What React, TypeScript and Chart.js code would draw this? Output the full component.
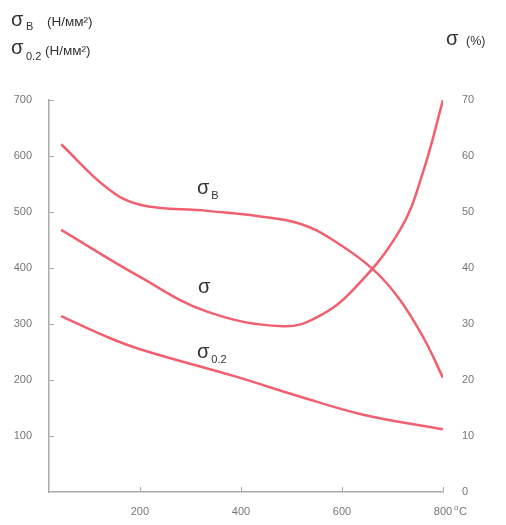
import React, { useEffect, useRef } from "react";
import { Chart, registerables } from "chart.js";

Chart.register(...registerables);

const sigmaBTemps = [44, 135, 200, 333, 438, 517, 582, 661, 715, 764, 800];
const sigmaBValues = [621, 543, 513, 502, 492, 479, 450, 398, 343, 271, 204];

const sigmaTemps = [44, 200, 333, 483, 550, 622, 715, 760, 800];
const sigmaValues = [46.8, 38.4, 32.2, 29.6, 31.2, 36.1, 46.8, 57.0, 70];

const sigma02Temps = [44, 135, 200, 390, 511, 642, 800];
const sigma02Values = [314, 277, 255, 206, 172, 138, 112];

const xTicks = [200, 400, 600, 800];
const leftTicks = [100, 200, 300, 400, 500, 600, 700];

const curveLabels = [
  { main: "σ", sub: "B", t: 313, v: 533 },
  { main: "σ", sub: "", t: 315, v: 355 },
  { main: "σ", sub: "0.2", t: 313, v: 239 },
];

const LINE = "#f0606e";
const FONT = "Arial, 'Liberation Sans', sans-serif";

const toPts = (xs: number[], ys: number[]) => xs.map((x, i) => ({ x, y: ys[i] }));

const overlay = {
  id: "overlay",
  afterDraw(chart: any) {
    const ctx = chart.ctx as CanvasRenderingContext2D;
    const xs = chart.scales.x;
    const yl = chart.scales.yL;
    const area = chart.chartArea;
    ctx.save();
    ctx.strokeStyle = "#aaaaaa";
    ctx.lineWidth = 1;
    ctx.beginPath();
    leftTicks.forEach((v) => {
      const y = Math.round(yl.getPixelForValue(v)) + 0.5;
      ctx.moveTo(area.left, y);
      ctx.lineTo(area.left + 5, y);
    });
    xTicks.forEach((v) => {
      const x = Math.round(xs.getPixelForValue(v)) + 0.5;
      ctx.moveTo(x, area.bottom);
      ctx.lineTo(x, area.bottom - 5);
    });
    ctx.stroke();

    ctx.fillStyle = "#333333";
    ctx.textBaseline = "alphabetic";
    ctx.textAlign = "left";
    curveLabels.forEach((l) => {
      const x = xs.getPixelForValue(l.t);
      const y = yl.getPixelForValue(l.v);
      ctx.font = `20px ${FONT}`;
      ctx.fillText(l.main, x, y);
      const w = ctx.measureText(l.main).width;
      if (l.sub) {
        ctx.font = `11px ${FONT}`;
        ctx.fillText(l.sub, x + w + 2, y + 5);
      }
    });

    ctx.font = `20px ${FONT}`;
    ctx.fillText("σ", 11, 26);
    ctx.fillText("σ", 11, 54);
    ctx.font = `11px ${FONT}`;
    ctx.fillText("B", 26, 30);
    ctx.fillText("0.2", 26, 60);
    ctx.font = `13.5px ${FONT}`;
    ctx.fillText("(Н/мм²)", 47, 26);
    ctx.fillText("(Н/мм²)", 45, 55);
    ctx.font = `20px ${FONT}`;
    ctx.fillText("σ", 446, 45);
    ctx.font = `12.5px ${FONT}`;
    ctx.fillText("(%)", 466, 45);

    ctx.fillStyle = "#777777";
    ctx.font = `8px ${FONT}`;
    ctx.fillText("o", 454, 510);
    ctx.font = `11px ${FONT}`;
    ctx.fillText("C", 459, 515);
    ctx.restore();
  },
};

export default function App() {
  const ref = useRef<HTMLCanvasElement | null>(null);
  useEffect(() => {
    document.body.style.margin = "0";
    const canvas = ref.current!;
    const tickFont = { family: FONT, size: 11 };
    const ds = (label: string, data: any, axis: string) => ({
      label,
      data,
      yAxisID: axis,
      borderColor: LINE,
      borderWidth: 2.5,
      pointRadius: 0,
      tension: 0.4,
      fill: false,
    });
    const chart = new Chart(canvas, {
      type: "line",
      data: {
        datasets: [
          ds("σB", toPts(sigmaBTemps, sigmaBValues), "yL"),
          ds("σ", toPts(sigmaTemps, sigmaValues), "yR"),
          ds("σ0.2", toPts(sigma02Temps, sigma02Values), "yL"),
        ],
      },
      options: {
        responsive: false,
        animation: false,
        layout: { padding: { top: 100, left: 0, right: 0, bottom: 0 } },
        plugins: { legend: { display: false }, tooltip: { enabled: false }, title: { display: false } },
        scales: {
          x: {
            type: "linear",
            min: 20,
            max: 800,
            afterBuildTicks: (s: any) => {
              s.ticks = xTicks.map((v) => ({ value: v }));
            },
            afterFit: (s: any) => {
              s.height = 33;
            },
            grid: { display: false, drawTicks: false },
            border: { display: true, color: "#aaaaaa", width: 1.5 },
            ticks: { color: "#777777", font: tickFont, padding: 13, maxRotation: 0 },
          },
          yL: {
            type: "linear",
            position: "left",
            min: 0,
            max: 700,
            afterBuildTicks: (s: any) => {
              s.ticks = leftTicks.map((v) => ({ value: v }));
            },
            afterFit: (s: any) => {
              s.width = 49;
            },
            grid: { display: false, drawTicks: false },
            border: { display: true, color: "#aaaaaa", width: 1.5 },
            ticks: { color: "#777777", font: tickFont, padding: 17 },
          },
          yR: {
            type: "linear",
            position: "right",
            min: 0,
            max: 70,
            ticks: { stepSize: 10, color: "#777777", font: tickFont, padding: 19 },
            afterFit: (s: any) => {
              s.width = 63;
            },
            grid: { display: false, drawTicks: false },
            border: { display: false },
          },
        },
      },
      plugins: [overlay],
    } as any);
    return () => chart.destroy();
  }, []);
  return <canvas ref={ref} width={506} height={525} style={{ display: "block" }} />;
}
